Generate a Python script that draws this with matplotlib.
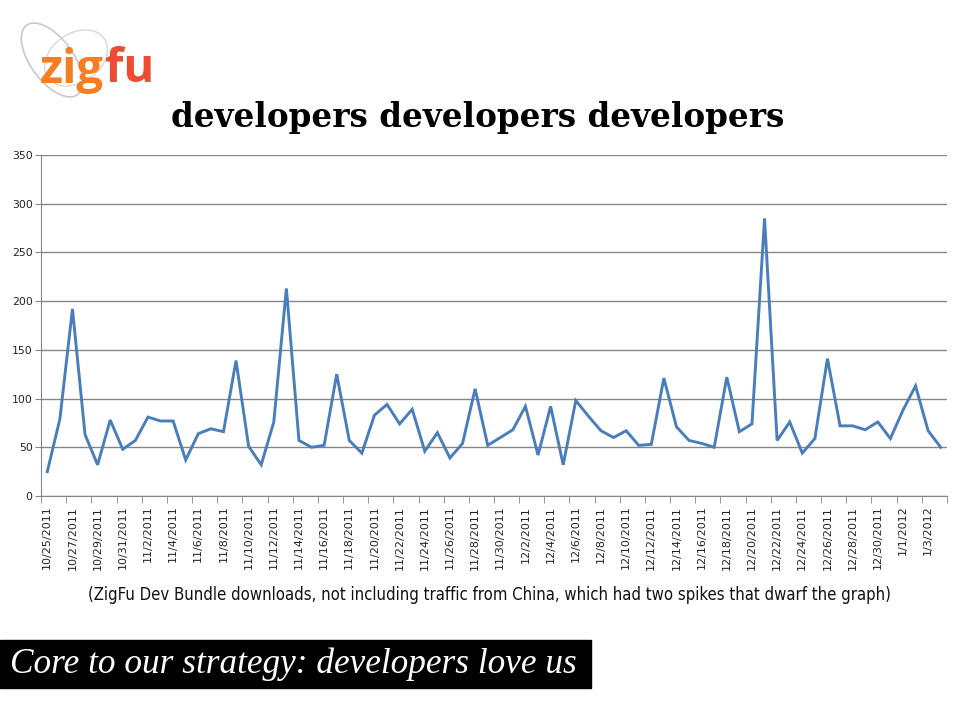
"""ZigFu dev bundle downloads per day, slide style."""

import datetime as dt

import matplotlib
matplotlib.use("Agg")
import matplotlib.pyplot as plt
from matplotlib.patches import Ellipse, Rectangle
import numpy as np

START_DATE = dt.date(2011, 10, 25)
DOWNLOADS = [
    25, 79, 192, 63, 32, 78, 48, 57, 81, 77,
    77, 37, 64, 69, 66, 139, 51, 32, 76, 213,
    57, 50, 52, 125, 57, 44, 83, 94, 74, 89,
    46, 65, 39, 54, 110, 52, 60, 68, 92, 42,
    92, 32, 98, 82, 67, 60, 67, 52, 53, 121,
    71, 57, 54, 50, 122, 66, 74, 285, 57, 76,
    44, 59, 141, 72, 72, 68, 76, 59, 88, 113,
    67, 50,
]
DATES = [START_DATE + dt.timedelta(days=i) for i in range(len(DOWNLOADS))]
DATE_LABELS = [f"{d.month}/{d.day}/{d.year}" for d in DATES]

TITLE = "developers developers developers"
CAPTION = ("(ZigFu Dev Bundle downloads, not including traffic from China, "
           "which had two spikes that dwarf the graph)")
TAGLINE = "Core to our strategy: developers love us"

LINE_COLOR = "#4A7EBB"
GRID_COLOR = "#868686"


def main():
    fig = plt.figure(figsize=(9.6, 7.2), dpi=100)
    W, H = 960, 720

    ax = fig.add_axes([41 / W, 1 - 496 / H, 906 / W, 341 / H])
    x = np.arange(len(DOWNLOADS))
    ax.plot(x, DOWNLOADS, color=LINE_COLOR, lw=2.1, solid_joinstyle="miter")
    ax.set_xlim(-0.5, len(DOWNLOADS) - 0.5)
    ax.set_ylim(0, 350)
    ax.set_yticks(np.arange(0, 351, 50))
    ax.grid(True, axis="y", color=GRID_COLOR, lw=1.0)
    ax.set_axisbelow(True)
    for side in ("top", "right"):
        ax.spines[side].set_visible(False)
    for side in ("left", "bottom"):
        ax.spines[side].set_color(GRID_COLOR)
    ax.tick_params(axis="y", length=4, color=GRID_COLOR, labelsize=7.8,
                   labelcolor="#222222", pad=2)

    ax.set_xticks(x[::2], DATE_LABELS[::2], rotation=90)
    ax.set_xticks(np.arange(-0.5, len(DOWNLOADS), 2), minor=True)
    ax.tick_params(axis="x", which="major", length=0, labelsize=8,
                   labelcolor="#222222", pad=7)
    ax.tick_params(axis="x", which="minor", length=5, color=GRID_COLOR)

    fig.text(478 / W, 1 - 118 / H, TITLE, ha="center", va="center",
             family="DejaVu Serif", weight="bold", fontsize=23.5)

    # logo
    fig.patches.append(Ellipse((52 / W, 1 - 60 / H), 46 / W, 80 / H,
                               angle=25, fill=False, ec="#C8C8C8", lw=1.2,
                               transform=fig.transFigure, figure=fig))
    fig.patches.append(Ellipse((76 / W, 1 - 58 / H), 56 / W, 60 / H,
                               angle=-30, fill=False, ec="#D8D8D8", lw=1.0,
                               transform=fig.transFigure, figure=fig))
    fig.text(40 / W, 1 - 70 / H, "zig", ha="left", va="center",
             family="Open Sans", weight="bold", fontsize=34, color="#F47F22")
    fig.text(105 / W, 1 - 70 / H, "fu", ha="left", va="center",
             family="Open Sans", weight="bold", fontsize=34, color="#EE4B34")

    fig.text(490 / W, 1 - 595 / H, CAPTION, ha="center", va="center",
             family="DejaVu Sans", fontsize=12, color="#111111",
             fontstretch="condensed")

    fig.patches.append(Rectangle((0, 1 - 688 / H), 591 / W, 48 / H,
                                 color="black", transform=fig.transFigure,
                                 figure=fig))
    fig.text(10 / W, 1 - 664 / H, TAGLINE, ha="left", va="center",
             family="Liberation Serif", style="italic", fontsize=25.4,
             color="white")

    fig.savefig("out.png", dpi=100)
    plt.close(fig)


if __name__ == "__main__":
    main()
